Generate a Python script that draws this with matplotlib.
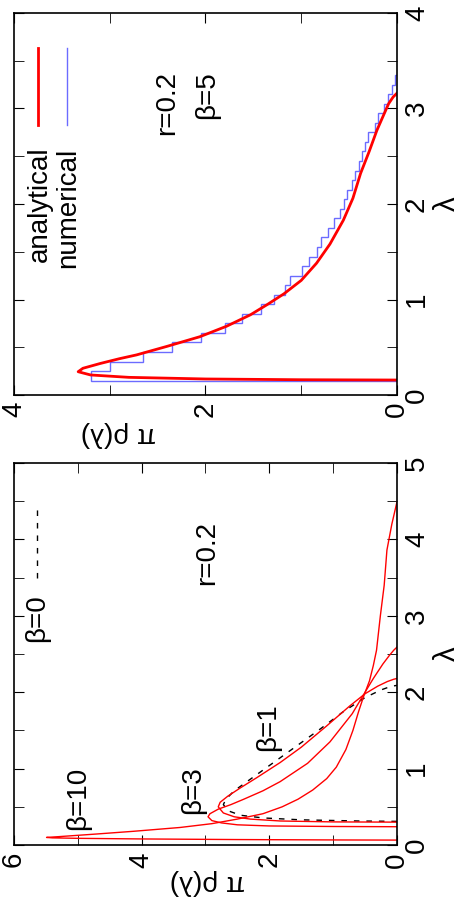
import numpy as np
import matplotlib
matplotlib.use("Agg")
import matplotlib.pyplot as plt
from matplotlib.ticker import MultipleLocator

plt.rcParams["font.family"] = ["Liberation Sans", "DejaVu Sans"]
plt.rcParams["font.size"] = 20

# ---- left (bottom) panel: analytical densities, r=0.2 ----
# (pi*rho, lambda) pairs
b10_rho = [0.0, 1.0, 2.5, 4.0, 5.0, 5.40, 5.49, 5.3, 4.7, 4.13, 3.4, 2.9, 2.5, 2.1, 1.8, 1.55,
           1.32, 1.1, 0.95, 0.8, 0.69, 0.6, 0.52, 0.43, 0.37, 0.32, 0.26, 0.2, 0.157, 0.08, 0.0]
b10_lam = [0.065, 0.067, 0.072, 0.080, 0.088, 0.094, 0.10, 0.11, 0.145, 0.18, 0.23, 0.28, 0.34, 0.41,
           0.50, 0.60, 0.72, 0.87, 1.02, 1.25, 1.50, 1.75, 1.95, 2.15, 2.35, 2.55, 3.0, 3.4, 3.86, 4.2, 4.49]
b3_rho = [0.0, 1.0, 2.0, 2.5, 2.75, 2.9, 2.96, 2.93, 2.8, 2.6, 2.4, 2.1, 1.83, 1.4, 1.05, 0.7,
          0.5, 0.37, 0.22, 0.12, 0.05, 0.0]
b3_lam = [0.24, 0.243, 0.25, 0.265, 0.29, 0.32, 0.37, 0.41, 0.47, 0.53, 0.60, 0.71, 0.83, 1.07,
          1.35, 1.72, 2.00, 2.18, 2.37, 2.48, 2.55, 2.59]
b1_rho = [0.0, 1.0, 1.83, 2.3, 2.55, 2.72, 2.80, 2.77, 2.65, 2.45, 2.2, 1.83, 1.5, 1.1, 0.74,
          0.5, 0.3, 0.15, 0.05, 0.0]
b1_lam = [0.30, 0.303, 0.315, 0.34, 0.37, 0.42, 0.50, 0.56, 0.64, 0.75, 0.88, 1.08, 1.28, 1.56,
          1.82, 1.98, 2.08, 2.14, 2.17, 2.18]
b0_rho = [0.0, 0.6, 1.5, 2.1, 2.45, 2.65, 2.72, 2.68, 2.55, 2.3, 2.0, 1.6, 1.2, 0.85, 0.5, 0.25, 0.1, 0.0]
b0_lam = [0.31, 0.315, 0.33, 0.355, 0.39, 0.45, 0.53, 0.60, 0.71, 0.86, 1.04, 1.28, 1.52, 1.74,
          1.93, 2.03, 2.075, 2.09]

# ---- right (top) panel: beta=5 ----
an_rho = [0.0, 1.0, 2.0, 2.8, 3.2, 3.33, 3.28, 3.1, 2.9, 2.72, 2.4, 2.06, 1.78, 1.53, 1.35, 1.18,
          1.0, 0.84, 0.7, 0.56, 0.46, 0.38, 0.29, 0.21, 0.14, 0.087, 0.04, 0.0]
an_lam = [0.157, 0.16, 0.168, 0.185, 0.21, 0.244, 0.28, 0.33, 0.38, 0.42, 0.51, 0.61, 0.72, 0.84,
          0.95, 1.06, 1.20, 1.38, 1.58, 1.83, 2.06, 2.32, 2.55, 2.77, 2.93, 3.05, 3.12, 3.16]
hist_edges = [0.15 + 0.1 * i for i in range(33)]
hist_vals = [3.2, 3.0, 2.65, 2.35, 2.05, 1.8, 1.62, 1.42, 1.28, 1.17, 1.12, 0.99,
             0.92, 0.84, 0.79, 0.72, 0.66, 0.60, 0.55, 0.52, 0.47, 0.44, 0.40, 0.36,
             0.33, 0.30, 0.23, 0.20, 0.14, 0.09, 0.05, 0.02]

RED = "#ff0000"
BLUE = "#6b6bff"

fig = plt.figure(figsize=(4.67, 8.99), dpi=100)
ax_top = fig.add_axes([0.030, 0.5606, 0.820, 0.425])
ax_bot = fig.add_axes([0.030, 0.060, 0.820, 0.425])


def style(ax, rmax, lmax):
    ax.set_xlim(rmax, 0)
    ax.set_ylim(0, lmax)
    ax.xaxis.set_major_locator(MultipleLocator(2))
    ax.xaxis.set_minor_locator(MultipleLocator(1))
    ax.yaxis.set_major_locator(MultipleLocator(1))
    ax.yaxis.set_minor_locator(MultipleLocator(0.5))
    ax.tick_params(which="both", direction="in", top=True, right=True, left=True,
                   labelleft=False, labelright=True, labelsize=20, pad=5)
    ax.tick_params(which="major", length=7)
    ax.tick_params(which="minor", length=7)
    for lab in ax.get_xticklabels():
        lab.set_rotation(90)
        lab.set_ha("center")
        lab.set_va("top")
    for lab in ax.get_yticklabels():
        lab.set_rotation(90)
        lab.set_ha("left")
        lab.set_va("center")
    ax.set_ylabel("λ", rotation=90, fontsize=21, labelpad=2)
    ax.yaxis.set_label_position("right")
    for s in ax.spines.values():
        s.set_linewidth(1.2)


kw = dict(rotation=90, ha="center", va="center")
kw_lab = dict(rotation=180, ha="center", va="center")

# bottom panel
style(ax_bot, 6, 5)
ax_bot.plot(b0_rho, b0_lam, color="black", ls=(0, (4, 5)), lw=1)
ax_bot.plot(b10_rho, b10_lam, color=RED, lw=1)
ax_bot.plot(b3_rho, b3_lam, color=RED, lw=1)
ax_bot.plot(b1_rho, b1_lam, color=RED, lw=1)
tb = ax_bot.transAxes
ax_bot.text(0.167, 0.123, "β=10", transform=tb, **kw)
ax_bot.text(0.467, 0.144, "β=3", transform=tb, **kw)
ax_bot.text(0.663, 0.308, "β=1", transform=tb, **kw)
ax_bot.text(0.06, 0.595, "β=0", transform=tb, **kw)
ax_bot.plot([0.06, 0.06], [0.70, 0.89], color="black", ls=(0, (4, 5)), lw=1, transform=tb)
ax_bot.text(0.504, 0.764, "r=0.2", transform=tb, **kw)
fig.text(207 / 467, 1 - 882 / 899, "π ρ(λ)", **kw_lab)

# top panel
style(ax_top, 4, 4)
ax_top.stairs(hist_vals, hist_edges, orientation="horizontal", color=BLUE, lw=1, baseline=0)
ax_top.plot(an_rho, an_lam, color=RED, lw=2)
tt = ax_top.transAxes
ax_top.plot([0.063, 0.063], [0.708, 0.908], color=RED, lw=2, transform=tt)
ax_top.plot([0.138, 0.138], [0.708, 0.908], color=BLUE, lw=1, transform=tt)
ax_top.text(0.068, 0.50, "analytical", transform=tt, **kw)
ax_top.text(0.142, 0.49, "numerical", transform=tt, **kw)
ax_top.text(0.40, 0.764, "r=0.2", transform=tt, **kw)
ax_top.text(0.503, 0.785, "β=5", transform=tt, **kw)
fig.text(118 / 467, 1 - 434 / 899, "π ρ(λ)", **kw_lab)

fig.savefig("out.png", dpi=100)
